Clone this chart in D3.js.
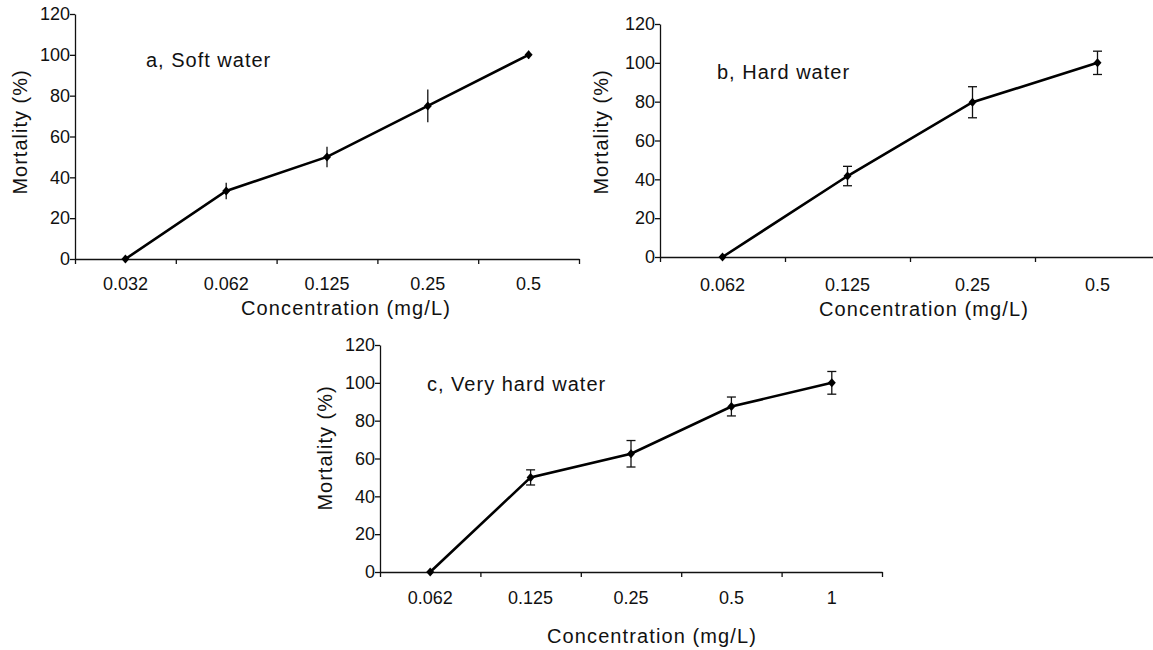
<!DOCTYPE html>
<html>
  <head>
    <meta charset="utf-8">
    <title>Mortality vs concentration</title>
    <script src="https://d3js.org/d3.v7.min.js"></script>
    <style>
      body { margin: 0; background: #fff; overflow: hidden; }
      text { font-family: "Liberation Sans", Arial, sans-serif; fill: #111; }
    </style>
  </head>
  <body>
  <svg id="chart" width="1153" height="650"></svg>
  <script>
    // panel a, soft water
    var catsA = ["0.032", "0.062", "0.125", "0.25", "0.5"];
    var mortA = [0, 33.3, 50, 75, 100];
    var errA = [0, 4, 5, 8, 2];

    // panel b, hard water
    var catsB = ["0.062", "0.125", "0.25", "0.5"];
    var mortB = [0, 41.7, 79.7, 100];
    var errB = [0, 5, 8, 6];

    // panel c, very hard water
    var catsC = ["0.062", "0.125", "0.25", "0.5", "1"];
    var mortC = [0, 50, 62.5, 87.5, 100];
    var errC = [0, 4, 7, 5, 6];

    var yTicks = [0, 20, 40, 60, 80, 100, 120];

    var svg = d3.select("#chart");

    // small square-ish diamond
    var diamond = {
      draw: function(ctx, size) {
        var w = 4, h = 4.5;
        ctx.moveTo(0, -h);
        ctx.lineTo(w, 0);
        ctx.lineTo(0, h);
        ctx.lineTo(-w, 0);
        ctx.closePath();
      }
    };

    // draw one panel
    function panel(opt) {
      var g = svg.append("g");

      var x = d3.scaleBand().domain(opt.cats).range([opt.left, opt.right]).padding(0);
      var xEdge = d3.scaleLinear().domain([0, opt.cats.length]).range([opt.left, opt.right]);
      var y = d3.scaleLinear().domain([0, 120]).range([opt.bottom, opt.top]);

      // y axis
      var yAxis = g.append("g")
        .attr("transform", "translate(" + opt.left + ",0)")
        .call(d3.axisLeft(y).tickValues(yTicks).tickSize(5).tickPadding(0).tickSizeOuter(0));
      yAxis.selectAll("text").style("font-size", "18px");

      // x axis: boundary ticks
      g.append("g")
        .attr("transform", "translate(0," + opt.bottom + ")")
        .call(d3.axisBottom(xEdge).tickValues(d3.range(opt.cats.length + 1)).tickFormat("").tickSize(5).tickSizeOuter(0));

      // x axis: category labels
      var xLab = g.append("g")
        .attr("transform", "translate(0," + opt.bottom + ")")
        .call(d3.axisBottom(x).tickSize(0).tickPadding(opt.labPad));
      xLab.select(".domain").remove();
      xLab.selectAll("text").style("font-size", "18px");

      g.selectAll(".domain, .tick line").attr("stroke", "#111").attr("stroke-width", 1.3);

      var data = opt.cats.map(function(c, i) {
        return { c: c, v: opt.vals[i], e: opt.errs[i] };
      });
      var cx = function(d) { return x(d.c) + x.bandwidth() / 2; };

      // error bars
      var eb = g.selectAll(".err").data(data.filter(function(d) { return d.e > 0; }))
        .enter().append("g").attr("class", "err");
      eb.append("line")
        .attr("x1", cx).attr("x2", cx)
        .attr("y1", function(d) { return y(d.v - d.e); })
        .attr("y2", function(d) { return y(d.v + d.e); })
        .attr("stroke", "#111").attr("stroke-width", 1.3);
      if (opt.caps) {
        [-1, 1].forEach(function(s) {
          eb.append("line")
            .attr("x1", function(d) { return cx(d) - 4.5; })
            .attr("x2", function(d) { return cx(d) + 4.5; })
            .attr("y1", function(d) { return y(d.v + s * d.e); })
            .attr("y2", function(d) { return y(d.v + s * d.e); })
            .attr("stroke", "#111").attr("stroke-width", 1.3);
        });
      }

      // line
      var line = d3.line().x(cx).y(function(d) { return y(d.v); });
      g.append("path").datum(data)
        .attr("d", line)
        .attr("fill", "none")
        .attr("stroke", "#000")
        .attr("stroke-width", 2.6);

      // diamond markers
      g.selectAll(".pt").data(data).enter().append("path")
        .attr("class", "pt")
        .attr("d", d3.symbol().type(diamond))
        .attr("transform", function(d) {
          return "translate(" + cx(d) + "," + y(d.v) + ")";
        })
        .attr("fill", "#000");

      // titles
      g.append("text")
        .attr("x", opt.xTitle[0]).attr("y", opt.xTitle[1])
        .attr("text-anchor", "middle")
        .style("font-size", "20px").style("letter-spacing", "1.1px")
        .text("Concentration (mg/L)");
      g.append("text")
        .attr("transform", "translate(" + opt.yTitle[0] + "," + opt.yTitle[1] + ") rotate(-90)")
        .attr("text-anchor", "middle")
        .attr("dy", "0.35em")
        .style("font-size", "20px").style("letter-spacing", "1px")
        .text("Mortality (%)");
      g.append("text")
        .attr("x", opt.note[0]).attr("y", opt.note[1])
        .style("font-size", "20px").style("letter-spacing", "1px")
        .text(opt.label);
    }

    panel({ cats: catsA, vals: mortA, errs: errA, caps: false,
      left: 75, right: 579, top: 14, bottom: 259, labPad: 18,
      xTitle: [346, 315], yTitle: [20, 132], note: [146, 67], label: "a, Soft water" });

    panel({ cats: catsB, vals: mortB, errs: errB, caps: true,
      left: 660, right: 1160, top: 24, bottom: 257, labPad: 21,
      xTitle: [924, 316], yTitle: [601, 132], note: [717, 79], label: "b, Hard water" });

    panel({ cats: catsC, vals: mortC, errs: errC, caps: true,
      left: 380, right: 882, top: 345, bottom: 572, labPad: 19,
      xTitle: [652, 643], yTitle: [325, 448], note: [427, 391], label: "c, Very hard water" });
  </script>
  </body>
</html>
